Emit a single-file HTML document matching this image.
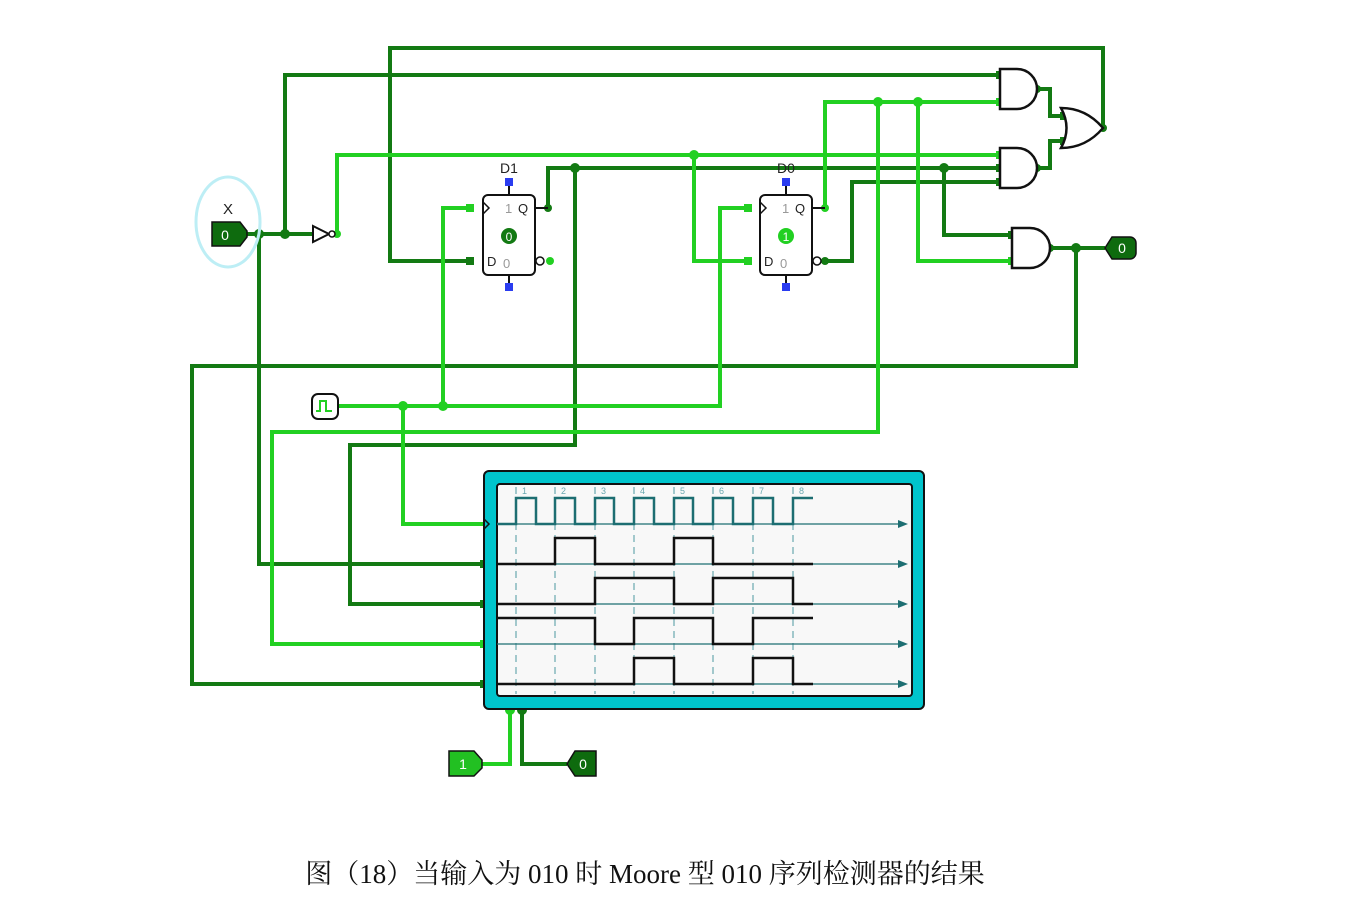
<!DOCTYPE html>
<html><head><meta charset="utf-8"><style>
html,body{margin:0;padding:0;background:#fff;width:1360px;height:924px;overflow:hidden}
svg{display:block}
.cap{position:absolute;left:0;width:1290px;top:852px;text-align:center;font-family:"Liberation Serif","Noto Serif CJK SC",serif;font-size:27px;color:#111}
</style></head><body>
<svg width="1360" height="924" xmlns="http://www.w3.org/2000/svg">
<g fill="none" stroke-width="4" stroke-linejoin="miter">
<g stroke="#137a13">
<polyline points="247,234 313,234"/>
<polyline points="285,234 285,75 1000,75"/>
<polyline points="259,234 259,564 484,564"/>
<polyline points="470,261 390,261 390,48 1103,48 1103,128"/>
<polyline points="548,208 548,168 1000,168"/>
<polyline points="575,168 575,445 350,445 350,604 484,604"/>
<polyline points="825,261 852,261 852,182 1000,182"/>
<polyline points="944,168 944,235 1012,235"/>
<polyline points="1037,89 1050,89 1050,116 1064,116"/>
<polyline points="1037,168 1050,168 1050,141 1064,141"/>
<polyline points="1050,248 1105,248"/>
<polyline points="1076,248 1076,366 192,366 192,684 484,684"/>
<polyline points="522,710 522,764 567,764"/>
</g>
<g stroke="#22d022">
<polyline points="337,234 337,155 1000,155"/>
<polyline points="694,155 694,261 748,261"/>
<polyline points="470,208 443,208 443,406"/>
<polyline points="338,406 720,406 720,208 748,208"/>
<polyline points="403,406 403,524 484,524"/>
<polyline points="825,208 825,102 1000,102"/>
<polyline points="878,102 878,432 272,432 272,644 484,644"/>
<polyline points="918,102 918,261 1012,261"/>
<polyline points="482,764 510,764 510,710"/>
</g>
</g>
<g fill="#137a13">
<circle cx="259" cy="234" r="5"/><circle cx="285" cy="234" r="5"/><circle cx="575" cy="168" r="5"/>
<circle cx="944" cy="168" r="5"/><circle cx="1076" cy="248" r="5"/><circle cx="548" cy="208" r="4"/>
<circle cx="825" cy="261" r="4"/><circle cx="1103" cy="128" r="4"/><circle cx="1037" cy="89" r="4"/><circle cx="1037" cy="168" r="4"/><circle cx="1050" cy="248" r="4"/>
<circle cx="522" cy="710" r="5"/>
<rect x="466" y="257" width="8" height="8"/><rect x="996" y="71" width="8" height="8"/><rect x="996" y="164" width="8" height="8"/><rect x="996" y="178" width="8" height="8"/><rect x="1008" y="231" width="8" height="8"/><rect x="1060" y="112" width="8" height="8"/><rect x="1060" y="137" width="8" height="8"/>
<rect x="480" y="560" width="8" height="8"/><rect x="480" y="600" width="8" height="8"/><rect x="480" y="680" width="8" height="8"/>
</g>
<g fill="#22d022">
<circle cx="694" cy="155" r="5"/><circle cx="878" cy="102" r="5"/><circle cx="918" cy="102" r="5"/>
<circle cx="403" cy="406" r="5"/><circle cx="443" cy="406" r="5"/><circle cx="337" cy="234" r="4"/><circle cx="825" cy="208" r="4"/><circle cx="550" cy="261" r="4"/><circle cx="510" cy="710" r="5"/>
<rect x="466" y="204" width="8" height="8"/><rect x="744" y="204" width="8" height="8"/><rect x="744" y="257" width="8" height="8"/><rect x="996" y="98" width="8" height="8"/><rect x="996" y="151" width="8" height="8"/><rect x="1008" y="257" width="8" height="8"/><rect x="480" y="640" width="8" height="8"/>
</g>
<ellipse cx="228" cy="222" rx="32" ry="45" fill="none" stroke="#bdeef5" stroke-width="3"/>
<text x="228" y="214" font-family="Liberation Sans,sans-serif" font-size="15" text-anchor="middle" fill="#222">X</text>
<path d="M212,222 H240 L247,231 V237 L240,246 H212 Z" fill="#0e6b0e" stroke="#111" stroke-width="1.5"/>
<text x="225" y="240" font-family="Liberation Sans,sans-serif" font-size="14" fill="#fff" text-anchor="middle">0</text>
<path d="M313,226 L329,234 L313,242 Z" fill="#fff" stroke="#111" stroke-width="2"/>
<circle cx="332" cy="234" r="3" fill="#fff" stroke="#111" stroke-width="1.5"/>
<g font-family="Liberation Sans,sans-serif">
<text x="509" y="173" font-size="14" text-anchor="middle" fill="#222">D1</text>
<line x1="509" y1="186" x2="509" y2="195" stroke="#111" stroke-width="2"/><line x1="509" y1="275" x2="509" y2="284" stroke="#111" stroke-width="2"/>
<rect x="505" y="178" width="8" height="8" fill="#2a3cf0"/><rect x="505" y="283" width="8" height="8" fill="#2a3cf0"/>
<rect x="483" y="195" width="52" height="80" rx="5" fill="#fff" stroke="#111" stroke-width="2"/>
<path d="M483,202 L489,208 L483,214" fill="none" stroke="#111" stroke-width="1.5"/>
<text x="505" y="213" font-size="13" fill="#999">1</text><text x="518" y="213" font-size="13" fill="#222">Q</text>
<text x="487" y="266" font-size="13" fill="#222">D</text><text x="503" y="268" font-size="13" fill="#999">0</text>
<circle cx="540" cy="261" r="4" fill="#fff" stroke="#111" stroke-width="1.5"/>
<circle cx="509" cy="236" r="8" fill="#137a13"/><text x="509" y="241" font-size="12" fill="#fff" text-anchor="middle">0</text>
<line x1="535" y1="208" x2="548" y2="208" stroke="#111" stroke-width="2"/>
<text x="786" y="173" font-size="14" text-anchor="middle" fill="#222">D0</text>
<line x1="786" y1="186" x2="786" y2="195" stroke="#111" stroke-width="2"/><line x1="786" y1="275" x2="786" y2="284" stroke="#111" stroke-width="2"/>
<rect x="782" y="178" width="8" height="8" fill="#2a3cf0"/><rect x="782" y="283" width="8" height="8" fill="#2a3cf0"/>
<rect x="760" y="195" width="52" height="80" rx="5" fill="#fff" stroke="#111" stroke-width="2"/>
<path d="M760,202 L766,208 L760,214" fill="none" stroke="#111" stroke-width="1.5"/>
<text x="782" y="213" font-size="13" fill="#999">1</text><text x="795" y="213" font-size="13" fill="#222">Q</text>
<text x="764" y="266" font-size="13" fill="#222">D</text><text x="780" y="268" font-size="13" fill="#999">0</text>
<circle cx="817" cy="261" r="4" fill="#fff" stroke="#111" stroke-width="1.5"/>
<circle cx="786" cy="236" r="8" fill="#22d022"/><text x="786" y="241" font-size="12" fill="#fff" text-anchor="middle">1</text>
<line x1="812" y1="208" x2="825" y2="208" stroke="#111" stroke-width="2"/>
</g>
<g fill="#fff" stroke="#111" stroke-width="2.5">
<path d="M1000,69 H1017 A20,20 0 0 1 1017,109 H1000 Z"/>
<path d="M1000,148 H1017 A20,20 0 0 1 1017,188 H1000 Z"/>
<path d="M1012,228 H1030 A20,20 0 0 1 1030,268 H1012 Z"/>
<path d="M1061,108 Q1086,108 1103,128 Q1086,148 1061,148 Q1072,128 1061,108 Z"/>
</g>
<path d="M1105,248 L1112,237 H1130 A6,6 0 0 1 1136,243 V253 A6,6 0 0 1 1130,259 H1112 Z" fill="#0e6b0e" stroke="#111" stroke-width="1.5"/>
<text x="1122" y="253" font-family="Liberation Sans,sans-serif" font-size="14" fill="#fff" text-anchor="middle">0</text>
<rect x="312" y="394" width="26" height="25" rx="6" fill="#fff" stroke="#111" stroke-width="2"/>
<path d="M316,411 H320 V401 H326 V411 H332" fill="none" stroke="#22d022" stroke-width="2"/>
<rect x="484" y="471" width="440" height="238" rx="5" fill="#00c4cc" stroke="#111" stroke-width="2"/>
<rect x="497" y="484" width="415" height="212" rx="3" fill="#f8f8f8" stroke="#111" stroke-width="2"/>
<g stroke="#6aa8b0" stroke-width="1.2" stroke-dasharray="7,5">
<line x1="516" y1="487" x2="516" y2="694"/><line x1="555" y1="487" x2="555" y2="694"/><line x1="595" y1="487" x2="595" y2="694"/><line x1="634" y1="487" x2="634" y2="694"/><line x1="674" y1="487" x2="674" y2="694"/><line x1="713" y1="487" x2="713" y2="694"/><line x1="753" y1="487" x2="753" y2="694"/><line x1="793" y1="487" x2="793" y2="694"/>
</g>
<g font-family="Liberation Sans,sans-serif" font-size="9" fill="#6aa8b0">
<text x="522" y="494">1</text><text x="561" y="494">2</text><text x="601" y="494">3</text><text x="640" y="494">4</text><text x="680" y="494">5</text><text x="719" y="494">6</text><text x="759" y="494">7</text><text x="799" y="494">8</text>
</g>
<g stroke="#1d6e72" stroke-width="1.2">
<line x1="497" y1="524" x2="900" y2="524"/><line x1="497" y1="564" x2="900" y2="564"/><line x1="497" y1="604" x2="900" y2="604"/><line x1="497" y1="644" x2="900" y2="644"/><line x1="497" y1="684" x2="900" y2="684"/>
</g>
<g fill="#1d6e72">
<path d="M898,520 L908,524 L898,528Z"/><path d="M898,560 L908,564 L898,568Z"/><path d="M898,600 L908,604 L898,608Z"/><path d="M898,640 L908,644 L898,648Z"/><path d="M898,680 L908,684 L898,688Z"/>
</g>
<polyline fill="none" stroke="#1d6e72" stroke-width="2.5" points="497,524 516,524 516,498 536,498 536,524 555,524 555,498 575,498 575,524 595,524 595,498 614,498 614,524 634,524 634,498 654,498 654,524 674,524 674,498 693,498 693,524 713,524 713,498 733,498 733,524 753,524 753,498 773,498 773,524 793,524 793,498 813,498"/>
<g fill="none" stroke="#111" stroke-width="2.5">
<polyline points="497,564 555,564 555,538 595,538 595,564 674,564 674,538 713,538 713,564 813,564"/>
<polyline points="497,604 595,604 595,578 674,578 674,604 713,604 713,578 793,578 793,604 813,604"/>
<polyline points="497,618 595,618 595,644 634,644 634,618 713,618 713,644 753,644 753,618 813,618"/>
<polyline points="497,684 634,684 634,658 674,658 674,684 753,684 753,658 793,658 793,684 813,684"/>
</g>
<path d="M484,519 L489,524 L484,529" fill="none" stroke="#111" stroke-width="1.5"/>
<path d="M449,751 H474 L482,760 V768 L474,776 H449 Z" fill="#22c022" stroke="#111" stroke-width="1.5"/>
<text x="463" y="769" font-family="Liberation Sans,sans-serif" font-size="14" fill="#fff" text-anchor="middle">1</text>
<path d="M567,764 L575,751 H596 V776 H575 Z" fill="#0e6b0e" stroke="#111" stroke-width="1.5"/>
<text x="583" y="769" font-family="Liberation Sans,sans-serif" font-size="14" fill="#fff" text-anchor="middle">0</text>
</svg>
<div class="cap">图（18）当输入为 010 时 Moore 型 010 序列检测器的结果</div>
</body></html>
